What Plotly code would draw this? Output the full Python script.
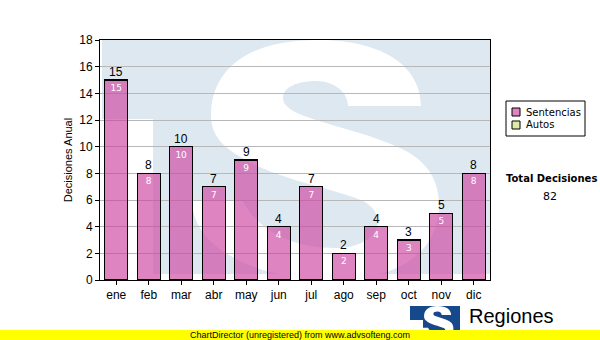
import plotly.graph_objects as go

# Monthly decisions
meses = ["ene", "feb", "mar", "abr", "may", "jun", "jul", "ago", "sep", "oct", "nov", "dic"]
sentencias = [15, 8, 10, 7, 9, 4, 7, 2, 4, 3, 5, 8]
autos = [None] * 12
y_ticks = [0, 2, 4, 6, 8, 10, 12, 14, 16, 18]

total = sum(v for v in sentencias if v) + sum(v for v in autos if v)

W, H = 600, 340
L, R, T, B = 100, 110, 40, 60
PW, PH = W - L - R, H - T - B


def px_x(x):
    return (x - L) / PW


def px_y(y):
    return (H - B - y) / PH


def path_from(cmds, sx=1.0, sy=1.0, ox=None, oy=None, bx=102, by=40):
    """Build an SVG path (paper units) from pixel commands, scaled about (bx, by)
    and moved so that (bx, by) lands on (ox, oy)."""
    ox = bx if ox is None else ox
    oy = by if oy is None else oy
    out = []
    for op, pts in cmds:
        out.append(op)
        coords = []
        for (x, y) in pts:
            X = ox + (x - bx) * sx
            Y = oy + (y - by) * sy
            coords.append(f"{px_x(X):.5f},{px_y(Y):.5f}")
        out.append(" ".join(coords))
    return " ".join(out)


# Logo block (with notch) and the white S outline, in the frame of the big watermark
block_cmds = [
    ("M", [(102, 40)]), ("L", [(490, 40)]), ("L", [(490, 274)]), ("L", [(153, 274)]),
    ("L", [(153, 119)]), ("L", [(102, 119)]), ("Z", []),
]
s_cmds = [
    ("M", [(421, 106)]),
    # top arc, outer edge
    ("C", [(421, 68), (385, 40), (318, 40)]),
    ("C", [(240, 40), (211, 75), (211, 115)]),
    # spine, lower edge
    ("C", [(211, 140), (228, 152), (262, 168)]),
    ("C", [(300, 184), (345, 192), (365, 202)]),
    # lower bowl, inner edge
    ("C", [(378, 210), (380, 222), (376, 230)]),
    ("C", [(368, 244), (350, 248), (335, 248)]),
    ("C", [(290, 248), (258, 230), (242, 200)]),
    # lower terminal
    ("L", [(192, 200)]),
    # bottom arc and lower bowl, outer edge
    ("C", [(192, 250), (262, 280), (330, 280)]),
    ("C", [(405, 280), (439, 248), (439, 205)]),
    # spine, upper edge
    ("C", [(439, 175), (422, 158), (400, 148)]),
    ("C", [(375, 136), (340, 128), (310, 118)]),
    ("C", [(292, 112), (283, 106), (283, 98)]),
    # upper counter
    ("C", [(283, 87), (298, 81), (316, 81)]),
    ("C", [(334, 81), (348, 92), (348, 106)]),
    ("Z", []),
]

shapes = []
# watermark
shapes.append(dict(type="path", xref="paper", yref="paper", layer="below",
                   path=path_from(block_cmds), fillcolor="rgb(222,232,241)",
                   line=dict(width=0)))
shapes.append(dict(type="path", xref="paper", yref="paper", layer="below",
                   path=path_from(s_cmds), fillcolor="white", line=dict(width=0)))

# small logo at the bottom right
lsx, lsy = 50 / 388, 32 / 235
logo_block = [
    ("M", [(410, 306)]), ("L", [(460, 306)]), ("L", [(460, 340)]), ("L", [(423, 340)]),
    ("L", [(423, 320)]), ("L", [(410, 320)]), ("Z", []),
]
shapes.append(dict(type="path", xref="paper", yref="paper", layer="above",
                   path=path_from(logo_block, bx=0, by=0), fillcolor="rgb(22,72,140)",
                   line=dict(width=0)))
shapes.append(dict(type="path", xref="paper", yref="paper", layer="above",
                   path=path_from(s_cmds, lsx, lsy, 410, 306), fillcolor="white",
                   line=dict(width=0)))

# legend box and swatches
shapes.append(dict(type="rect", xref="paper", yref="paper", layer="above",
                   x0=px_x(506), x1=px_x(585), y0=px_y(101), y1=px_y(136),
                   fillcolor="white", line=dict(color="black", width=1)))
shapes.append(dict(type="rect", xref="paper", yref="paper", layer="above",
                   x0=px_x(512), x1=px_x(520), y0=px_y(108), y1=px_y(116),
                   fillcolor="rgb(222,133,193)", line=dict(color="black", width=1)))
shapes.append(dict(type="rect", xref="paper", yref="paper", layer="above",
                   x0=px_x(512), x1=px_x(520), y0=px_y(121), y1=px_y(129),
                   fillcolor="rgb(221,234,168)", line=dict(color="black", width=1)))

# yellow footer band
shapes.append(dict(type="rect", xref="paper", yref="paper", layer="above",
                   x0=px_x(0), x1=px_x(600), y0=px_y(330), y1=px_y(340),
                   fillcolor="rgb(255,255,0)", line=dict(width=0)))

fig = go.Figure()
fig.add_trace(go.Bar(
    name="Sentencias", x=meses, y=sentencias, width=0.71,
    marker=dict(color="rgba(204,68,160,0.65)", line=dict(color="black", width=1.1)),
    text=sentencias, textposition="inside", insidetextanchor="end", textangle=0,
    textfont=dict(family="DejaVu Sans", size=9, color="white"),
    constraintext="none", showlegend=False,
))
fig.add_trace(go.Bar(
    name="Autos", x=meses, y=autos, width=0.71,
    marker=dict(color="rgb(221,234,168)", line=dict(color="black", width=1.1)),
    showlegend=False,
))

ann_font = dict(family="DejaVu Sans", size=10, color="black")
annotations = []
# value labels above each bar
for m, v in zip(meses, sentencias):
    annotations.append(dict(x=m, y=v, xref="x", yref="y", text=str(v), showarrow=False,
                            xanchor="center", yanchor="bottom", yshift=-1,
                            font=dict(family="Liberation Sans, Arial", size=12,
                                      color="black")))

paper_notes = [
    dict(x=px_x(524), y=px_y(112), text="Sentencias", xanchor="left", yanchor="middle",
         font=ann_font),
    dict(x=px_x(524), y=px_y(125), text="Autos", xanchor="left", yanchor="middle",
         font=ann_font),
    dict(x=px_x(551), y=px_y(178), text="<b>Total Decisiones</b>", xanchor="center",
         yanchor="middle", font=dict(family="DejaVu Sans", size=10, color="black")),
    dict(x=px_x(550), y=px_y(196), text=str(total), xanchor="center", yanchor="middle",
         font=dict(family="DejaVu Sans", size=11, color="black")),
    dict(x=px_x(467), y=px_y(316), text="Regiones", xanchor="left", yanchor="middle",
         font=dict(family="Liberation Sans, Arial", size=20, color="black")),
    dict(x=px_x(300), y=px_y(335), text="ChartDirector (unregistered) from www.advsofteng.com",
         xanchor="center", yanchor="middle",
         font=dict(family="Liberation Sans, Arial", size=9, color="black")),
]
for a in paper_notes:
    a.update(xref="paper", yref="paper", showarrow=False)
annotations += paper_notes

fig.update_layout(
    width=W, height=H,
    margin=dict(l=L, r=R, t=T, b=B, pad=0),
    paper_bgcolor="white", plot_bgcolor="white",
    barmode="stack", bargap=0.29,
    shapes=shapes, annotations=annotations,
    font=dict(family="Liberation Sans, Arial", size=12, color="black"),
    xaxis=dict(
        type="category", range=[-0.5, 11.5], showline=True, linecolor="black", linewidth=1,
        mirror=True, ticks="outside", ticklen=4, tickcolor="black", showgrid=False,
        tickfont=dict(family="Liberation Sans, Arial", size=12, color="black"),
    ),
    yaxis=dict(
        range=[0, 18], tickvals=y_ticks, showline=True, linecolor="black", linewidth=1,
        mirror=True, ticks="outside", ticklen=4, tickcolor="black",
        showgrid=True, gridcolor="rgb(184,184,184)", gridwidth=1, zeroline=False,
        tickfont=dict(family="Liberation Sans, Arial", size=12, color="black"),
        title=dict(text="Decisiones Anual", standoff=4,
                   font=dict(family="Liberation Sans, Arial", size=11, color="black")),
    ),
)

fig.write_html("out.html")
